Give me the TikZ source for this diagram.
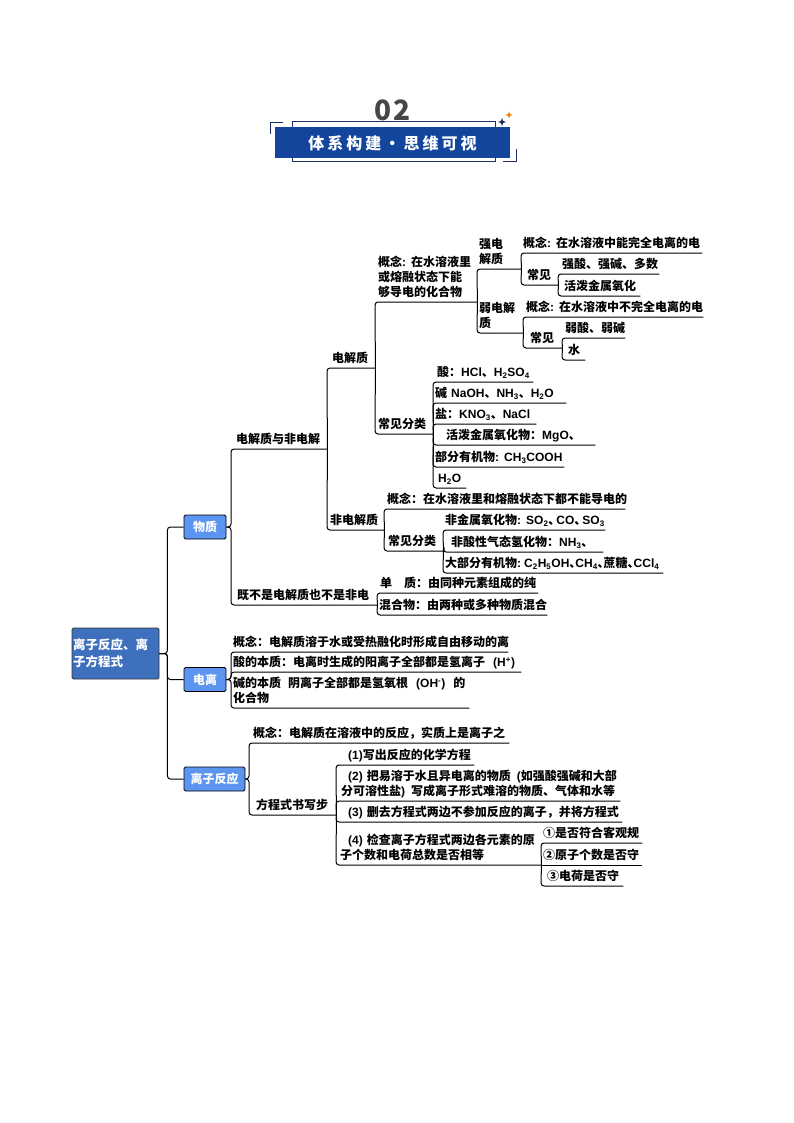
\documentclass[tikz,border=0pt]{standalone}
\usepackage{fontspec}
\setmainfont{Noto Sans CJK SC}
\newfontfamily\latinfont{Liberation Sans}
\newcommand{\chem}[1]{{\latinfont\bfseries #1}}
\newcommand{\halfcolon}{\chem{:}\hspace{5pt}}
\usetikzlibrary{shapes.geometric}
\definecolor{bannerblue}{HTML}{12459B}
\definecolor{bannerline}{HTML}{1F2F5F}
\definecolor{rootblue}{HTML}{3F70BE}
\definecolor{boxblue}{HTML}{5C95F0}
\tikzset{
    x=1pt,
    y=-1pt,
    leaf/.style 2 args = {
        shape=rectangle,
        anchor=south west,
        inner xsep=0pt,
        inner ysep=0.6pt,
        text width=#1pt,
        align=left,
        font=\fontsize{12}{15}\selectfont\bfseries,
        execute at begin node=\leavevmode\hspace*{#2pt},
        execute at end node=\strut
    },
    topic/.style = {
        draw=black,
        shape=rectangle,
        rounded corners=1.5pt,
        fill=boxblue,
        text=white,
        line width=0.8pt,
        minimum height=24pt,
        inner sep=0pt,
        font=\fontsize{12}{15}\selectfont\bfseries
    },
    root/.style = {
        draw=black!80,
        shape=rectangle,
        rounded corners=1.5pt,
        fill=rootblue,
        text=white,
        line width=0.8pt,
        minimum width=87pt,
        minimum height=51pt,
        inner xsep=1pt,
        text width=85pt,
        align=left,
        font=\fontsize{12.5}{17}\selectfont\bfseries
    },
    link/.style = {
        line width=1pt,
        rounded corners=3pt
    },
    bracket/.style = {
        draw=bannerline,
        line width=1pt
    },
    spark/.style = {
        shape=star,
        star points=4,
        star point ratio=2.6,
        minimum size=8pt,
        inner sep=0pt
    }
}
\begin{document}
\begin{tikzpicture}
            \useasboundingbox (0,0) rectangle (794,1123);

            % header
            \node[text=black!72, font=\fontsize{28}{30}\selectfont\bfseries\addfontfeature{LetterSpace=6}] (number) at (392.5,110) {02};
            \node[draw=bannerline, fill=white, line width=1pt, minimum width=203pt, minimum height=40pt, inner sep=0pt] (backplate) at (393.5,142) {};
            \node[fill=bannerblue, text=white, minimum width=235pt, minimum height=31pt, inner sep=0pt, font=\fontsize{16}{20}\selectfont\bfseries\addfontfeature{LetterSpace=19}] (banner) at (392.5,143) {体系构建·思维可视};
            \coordinate (cornerleft) at (270,123);
            \coordinate (cornerright) at (516,162);
            \path[bracket] (cornerleft) ++(0,11) |- ++(13,-11);
            \path[bracket] (cornerright) ++(0,-13) |- ++(-13,13);
            \node[spark, fill=bannerline] (sparkdark) at (502,122) {};
            \node[spark, fill=orange!80!brown, minimum size=7pt] (sparklight) at (509,115) {};

            % main boxes
            \node[root] (main) at (115.5,653.5) {离子反应、离\\子方程式};
            \node[topic, minimum width=42pt] (material) at (205,527) {物质};
            \node[topic, minimum width=42pt] (ionization) at (205,679.5) {电离};
            \node[topic, minimum width=61pt] (reaction) at (214.5,779) {离子反应};

            % material
            \node[leaf={96}{5}] (both) at (231,449) {电解质与非电解};
            \node[leaf={146}{6}] (neither) at (231,605) {既不是电解质也不是非电};
            \node[leaf={48}{5}] (elec) at (327,368) {电解质};
            \node[leaf={57}{3}] (nonelec) at (327,530) {非电解质};

            \node[leaf={102}{3}] (elecdef) at (375,302) {概念\halfcolon 在水溶液里\\\hspace*{3pt}或熔融状态下能\\\hspace*{3pt}够导电的化合物};
            \node[leaf={58}{3}] (eleckinds) at (375,434) {常见分类};

            \node[leaf={44}{2}] (strong) at (477,269) {强电\\\hspace*{2pt}解质};
            \node[leaf={46}{2}] (weak) at (477,333) {弱电解\\\hspace*{2pt}质};
            \node[leaf={181}{2}] (strongdef) at (521,253) {概念\halfcolon 在水溶液中能完全电离的电};
            \node[leaf={37}{6}] (strongcommon) at (521,285) {常见};
            \node[leaf={101}{4}] (strongacid) at (558,274) {强酸、强碱、多数};
            \node[leaf={82}{6}] (activeoxide) at (558,296) {活泼金属氧化};
            \node[leaf={180}{3}] (weakdef) at (523,317) {概念\halfcolon 在水溶液中不完全电离的电};
            \node[leaf={39}{7}] (weakcommon) at (523,348) {常见};
            \node[leaf={63}{3}] (weakacid) at (562,338) {弱酸、弱碱};
            \node[leaf={23}{6}] (water) at (562,360) {水};

            \node[leaf={100}{4}] (acid) at (433,382) {酸：\chem{HCl}、\chem{H\textsubscript{2}SO\textsubscript{4}}};
            \node[leaf={133}{2}] (base) at (433,403) {碱 \chem{NaOH}、\chem{NH\textsubscript{3}}、\chem{H\textsubscript{2}O}};
            \node[leaf={103}{2}] (salt) at (433,424) {盐：\chem{KNO\textsubscript{3}}、\chem{NaCl}};
            \node[leaf={162}{13}] (oxide) at (433,445) {活泼金属氧化物：\chem{MgO}、};
            \node[leaf={131}{2}] (organic) at (433,467) {部分有机物\halfcolon \chem{CH\textsubscript{3}COOH}};
            \node[leaf={33}{5}] (wateroxide) at (433,488) {\chem{H\textsubscript{2}O}};

            \node[leaf={241}{3}] (nonelecdef) at (384,509) {概念：在水溶液里和熔融状态下都不能导电的};
            \node[leaf={59}{4}] (nonelecinds) at (384,551) {常见分类};
            \node[leaf={162}{2}] (nonmetal) at (443,530) {\mbox{非金属氧化物\halfcolon \chem{SO\textsubscript{2}}、\hspace{-4pt}\chem{CO}、\hspace{-4pt}\chem{SO\textsubscript{3}}}};
            \node[leaf={160}{8}] (gas) at (443,552) {非酸性气态氢化物：\chem{NH\textsubscript{3}}、};
            \node[leaf={220}{2}] (mostorganic) at (443,573) {\mbox{大部分有机物\chem{:}\hspace{3pt}\chem{C\textsubscript{2}H\textsubscript{5}OH}、\hspace{-6pt}\chem{CH\textsubscript{4}}、\hspace{-6pt}蔗糖、\hspace{-6pt}\chem{CCl\textsubscript{4}}}};

            \node[leaf={161}{3}] (simple) at (377,593) {单\quad 质：由同种元素组成的纯};
            \node[leaf={170}{2}] (mixture) at (377,615) {混合物：由两种或多种物质混合};

            % ionization
            \node[leaf={277}{2}] (iondef) at (231,652) {概念：电解质溶于水或受热融化时形成自由移动的离};
            \node[leaf={290}{2}] (ionacid) at (231,672) {\mbox{酸的本质：电离时生成的阳离子全部都是氢离子\hspace{8pt}\chem{(H\textsuperscript{+})}}};
            \node[leaf={238}{2}] (ionbase) at (231,708) {\mbox{碱的本质\hspace{7pt}阴离子全部都是氢氧根\hspace{8pt}\chem{(OH\textsuperscript{-})}\hspace{8pt}的}\\\hspace*{2pt}化合物};

            % reaction
            \node[leaf={260}{4}] (reactdef) at (249,743) {概念：电解质在溶液中的反应，实质上是离子之};
            \node[leaf={87}{7}] (steps) at (249,815) {方程式书写步};
            \node[leaf={138}{12}] (stepone) at (336,765) {\chem{(1)}写出反应的化学方程};
            \node[leaf={284}{12}] (steptwo) at (336,801) {\chem{(2)} 把易溶于水且异电离的物质\hspace{6pt}\chem{(}如强酸强碱和大部\\\hspace*{5pt}分可溶性盐\chem{)}\hspace{6pt}写成离子形式难溶的物质、气体和水等};
            \node[leaf={286}{12}] (stepthree) at (336,822) {\chem{(3)} 删去方程式两边不参加反应的离子，并将方程式};
            \node[leaf={205}{12}] (stepfour) at (336,865) {\chem{(4)} 检查离子方程式两边各元素的原\\\hspace*{4pt}子个数和电荷总数是否相等};
            \node[leaf={101}{2}] (checkone) at (541,843) {①是否符合客观规};
            \node[leaf={101}{2}] (checktwo) at (541,865) {②原子个数是否守};
            \node[leaf={82}{6}] (checkthree) at (541,886) {③电荷是否守};

            \path[draw, link] (main.east) -- ++(8,0) |- (material.west);
            \path[draw, link] (main.east) -- ++(8,0) |- (ionization.west);
            \path[draw, link] (main.east) -- ++(8,0) |- (reaction.west);

            \path[draw, link] (material.east) -| (both.south west) -- (both.south east);
            \path[draw, link] (material.east) -| (neither.south west) -- (neither.south east);
            \path[draw, link] (both.south east) -- (elec.south west) -- (elec.south east);
            \path[draw, link] (both.south east) -- (nonelec.south west) -- (nonelec.south east);

            \path[draw, link] (elec.south east) -- (elecdef.south west) -- (elecdef.south east);
            \path[draw, link] (elec.south east) -- (eleckinds.south west) -- (eleckinds.south east);
            \path[draw, link] (elecdef.south east) -- (strong.south west) -- (strong.south east);
            \path[draw, link] (elecdef.south east) -- (weak.south west) -- (weak.south east);
            \path[draw, link] (strong.south east) -- (strongdef.south west) -- (strongdef.south east);
            \path[draw, link] (strong.south east) -- (strongcommon.south west) -- (strongcommon.south east);
            \path[draw, link] (strongcommon.south east) -- (strongacid.south west) -- (strongacid.south east);
            \path[draw, link] (strongcommon.south east) -- (activeoxide.south west) -- (activeoxide.south east);
            \path[draw, link] (weak.south east) -- (weakdef.south west) -- (weakdef.south east);
            \path[draw, link] (weak.south east) -- (weakcommon.south west) -- (weakcommon.south east);
            \path[draw, link] (weakcommon.south east) -- (weakacid.south west) -- (weakacid.south east);
            \path[draw, link] (weakcommon.south east) -- (water.south west) -- (water.south east);

            \path[draw, link] (eleckinds.south east) -- (acid.south west) -- (acid.south east);
            \path[draw, link] (eleckinds.south east) -- (base.south west) -- (base.south east);
            \path[draw, link] (eleckinds.south east) -- (salt.south west) -- (salt.south east);
            \path[draw, link] (eleckinds.south east) -- (oxide.south west) -- (oxide.south east);
            \path[draw, link] (eleckinds.south east) -- (organic.south west) -- (organic.south east);
            \path[draw, link] (eleckinds.south east) -- (wateroxide.south west) -- (wateroxide.south east);

            \path[draw, link] (nonelec.south east) -- (nonelecdef.south west) -- (nonelecdef.south east);
            \path[draw, link] (nonelec.south east) -- (nonelecinds.south west) -- (nonelecinds.south east);
            \path[draw, link] (nonelecinds.south east) -- (nonmetal.south west) -- (nonmetal.south east);
            \path[draw, link] (nonelecinds.south east) -- (gas.south west) -- (gas.south east);
            \path[draw, link] (nonelecinds.south east) -- (mostorganic.south west) -- (mostorganic.south east);

            \path[draw, link] (neither.south east) -- (simple.south west) -- (simple.south east);
            \path[draw, link] (neither.south east) -- (mixture.south west) -- (mixture.south east);

            \path[draw, link] (ionization.east) -| (iondef.south west) -- (iondef.south east);
            \path[draw, link] (ionization.east) -| (ionacid.south west) -- (ionacid.south east);
            \path[draw, link] (ionization.east) -| (ionbase.south west) -- (ionbase.south east);

            \path[draw, link] (reaction.east) -| (reactdef.south west) -- (reactdef.south east);
            \path[draw, link] (reaction.east) -| (steps.south west) -- (steps.south east);
            \path[draw, link] (steps.south east) -- (stepone.south west) -- (stepone.south east);
            \path[draw, link] (steps.south east) -- (steptwo.south west) -- (steptwo.south east);
            \path[draw, link] (steps.south east) -- (stepthree.south west) -- (stepthree.south east);
            \path[draw, link] (steps.south east) -- (stepfour.south west) -- (stepfour.south east);
            \path[draw, link] (stepfour.south east) -- (checkone.south west) -- (checkone.south east);
            \path[draw, link] (stepfour.south east) -- (checktwo.south west) -- (checktwo.south east);
            \path[draw, link] (stepfour.south east) -- (checkthree.south west) -- (checkthree.south east);

        \end{tikzpicture}
\end{document}
